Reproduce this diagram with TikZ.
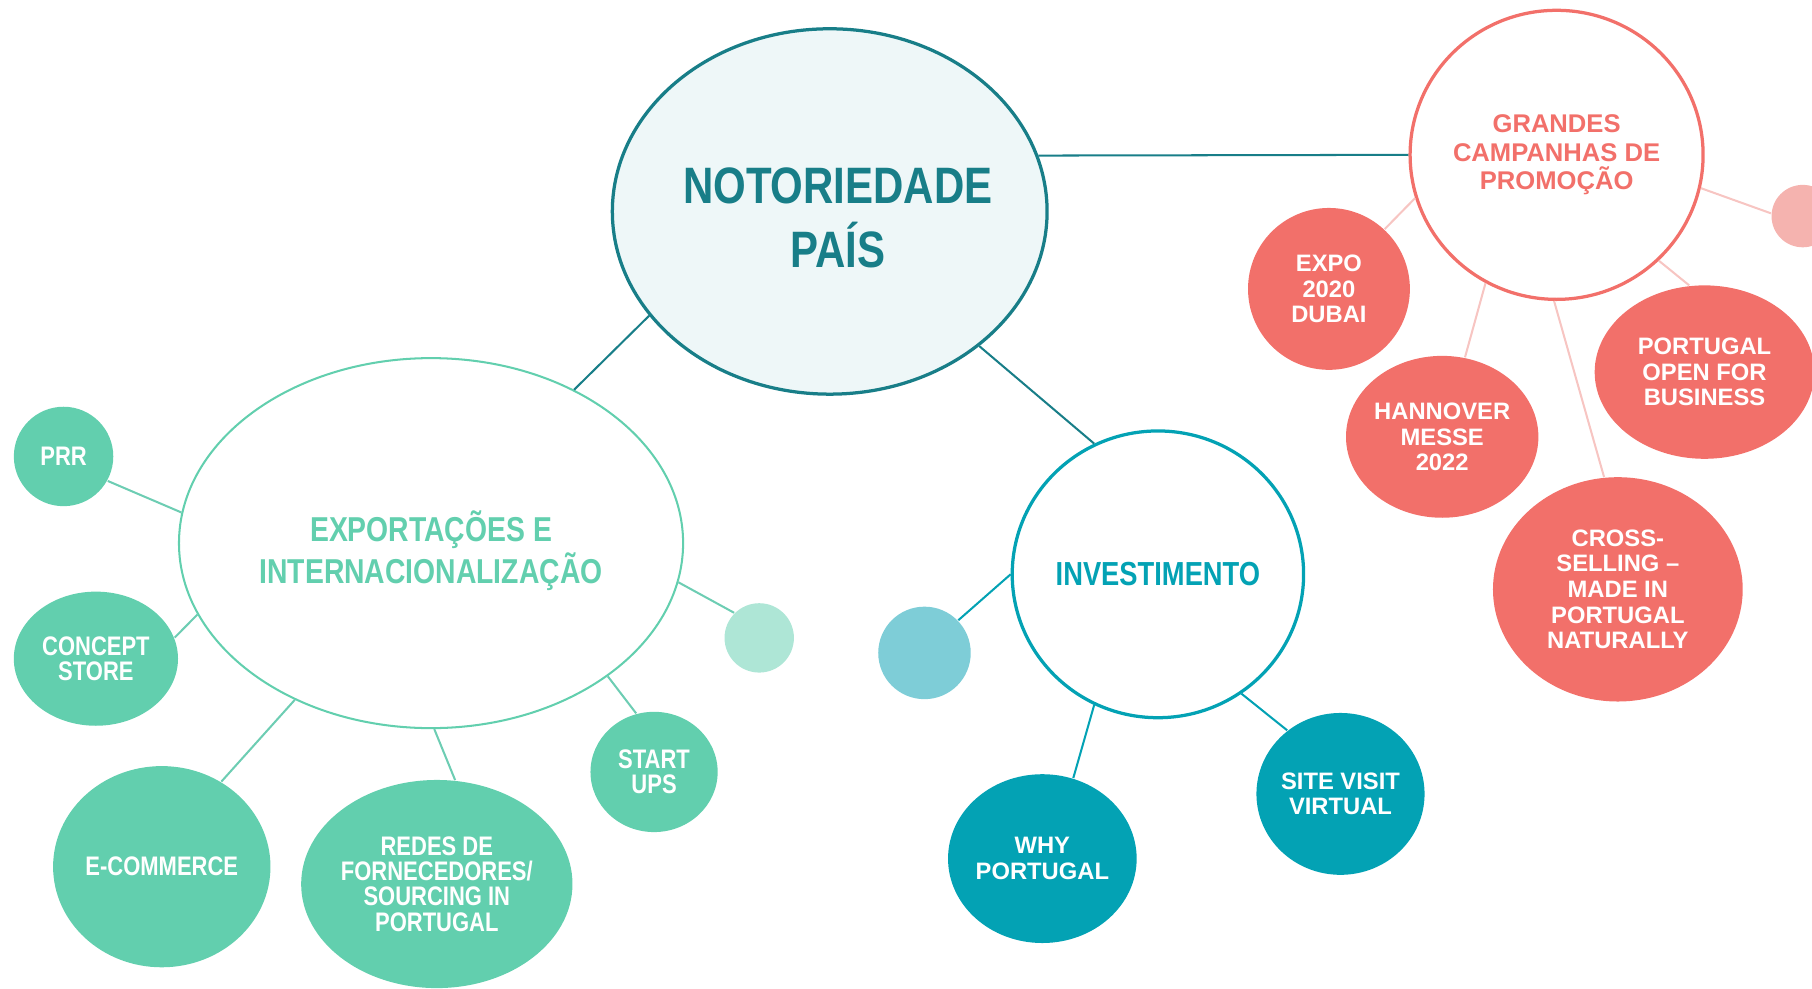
\documentclass[tikz,border=0pt]{standalone}
\usepackage{fontspec}
\setmainfont{Liberation Sans}
\newfontfamily\narrowfont[FakeStretch=0.82]{Liberation Sans}
\usetikzlibrary{shapes.geometric}

\definecolor{notteal}{HTML}{187E88}
\definecolor{notfill}{HTML}{EEF7F8}
\definecolor{coral}{HTML}{F2706A}
\definecolor{coralline}{HTML}{F7C5C2}
\definecolor{coralpale}{HTML}{F5B3AF}
\definecolor{mint}{HTML}{62CFAE}
\definecolor{mintline}{HTML}{6DCDB3}
\definecolor{mintpale}{HTML}{AEE6D6}
\definecolor{invteal}{HTML}{03A2B4}
\definecolor{invpale}{HTML}{7ECDD7}

\begin{document}
\begin{tikzpicture}[x=0.01cm,y=-0.01cm,
    every node/.style={ellipse,inner sep=0pt,align=center,text=white},
    minttxt/.style={font=\narrowfont\bfseries\fontsize{6.6}{6.2}\selectfont},
    coraltxt/.style={font=\bfseries\fontsize{5.85}{6.3}\selectfont}]
  \clip (0,0) rectangle (1568,855);

  % centre
  \node[draw=notteal,line width=0.8pt,fill=notfill,text=notteal,inner xsep=-15pt,minimum width=3.76cm,minimum height=3.16cm,
        font=\narrowfont\bfseries\fontsize{12.6}{15.6}\selectfont] (not) at (718,183) {\rule{0pt}{12pt}\hspace{4pt}NOTORIEDADE\\\hspace{4pt}PAÍS};

  % campanhas
  \node[draw=coral,line width=0.8pt,fill=white,text=coral,minimum width=2.5cm,minimum height=2.5cm,
        font=\bfseries\fontsize{6.3}{7.1}\selectfont] (gra) at (1347,134) {GRANDES\\CAMPANHAS DE\\PROMOÇÃO};
  \node[fill=coral,coraltxt,minimum width=1.4cm,minimum height=1.4cm] (expo) at (1150,250) {EXPO\\2020\\DUBAI};
  \node[fill=coral,coraltxt,minimum width=1.64cm,minimum height=1.4cm] (han) at (1248,378) {HANNOVER\\MESSE\\2022};
  \node[fill=coral,coraltxt,minimum width=1.9cm,minimum height=1.5cm] (pof) at (1475,322) {PORTUGAL\\OPEN FOR\\BUSINESS};
  \node[fill=coral,coraltxt,minimum width=2.16cm,minimum height=1.94cm] (cross) at (1400,510) {CROSS-\\SELLING –\\MADE IN\\PORTUGAL\\NATURALLY};
  \node[circle,fill=coralpale,minimum size=0.54cm] (gradot) at (1560,187) {};

  % exportacoes
  \node[draw=mint,line width=0.5pt,fill=white,text=mint,minimum width=4.36cm,minimum height=3.2cm,
        font=\narrowfont\bfseries\fontsize{8.5}{9.1}\selectfont] (exp) at (373,470) {\rule{0pt}{11.3pt}EXPORTAÇÕES E\\INTERNACIONALIZAÇÃO};
  \node[circle,fill=mint,minttxt,minimum size=0.86cm] (prr) at (55,395) {PRR};
  \node[fill=mint,minttxt,minimum width=1.42cm,minimum height=1.16cm] (concept) at (83,570) {CONCEPT\\STORE};
  \node[fill=mint,minttxt,minimum width=1.88cm,minimum height=1.74cm] (ecom) at (140,750) {E-COMMERCE};
  \node[fill=mint,minttxt,minimum width=2.3cm,minimum height=1.8cm] (redes) at (378,765) {REDES DE\\FORNECEDORES/\\SOURCING IN\\PORTUGAL};
  \node[fill=mint,minttxt,minimum width=1.1cm,minimum height=1.04cm] (start) at (566,668) {START\\UPS};
  \node[circle,fill=mintpale,minimum size=0.6cm] (expdot) at (657,552) {};

  % investimento
  \node[draw=invteal,line width=0.8pt,fill=white,text=invteal,minimum width=2.52cm,minimum height=2.48cm,
        font=\narrowfont\bfseries\fontsize{8.2}{9}\selectfont] (inv) at (1002,497) {INVESTIMENTO};
  \node[circle,fill=invpale,minimum size=0.8cm] (invdot) at (800,565) {};
  \node[fill=invteal,coraltxt,minimum width=1.6cm,minimum height=1.46cm] (why) at (902,743) {WHY\\PORTUGAL};
  \node[fill=invteal,coraltxt,minimum width=1.42cm,minimum height=1.4cm] (site) at (1160,687) {SITE VISIT\\VIRTUAL};

  \foreach \from/\to in {not.15/gra.180,not.-150/exp.47,not.-42/inv.116}
    \draw[notteal,line width=0.5pt] (\from) -- (\to);
  \foreach \from/\to in {gra.197/expo.47,gra.241/han.74,gra.269/cross.97,gra.-46/pof.100,gra.-13/gradot.175}
    \draw[coralline,line width=0.5pt] (\from) -- (\to);
  \foreach \from/\to in {exp.173/prr.-29,exp.197/concept.15,exp.229/ecom.55,exp.-89/redes.80,exp.-37/start.107,exp.-9/expdot.135}
    \draw[mintline,line width=0.5pt] (\from) -- (\to);
  \foreach \from/\to in {inv.180/invdot.44,inv.244/why.69,inv.-55/site.130}
    \draw[invteal,line width=0.5pt] (\from) -- (\to);
\end{tikzpicture}
\end{document}
